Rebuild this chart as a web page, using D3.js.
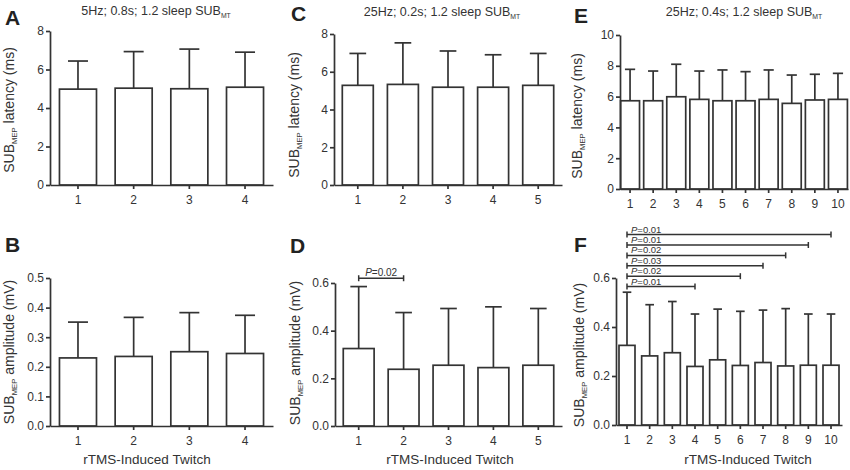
<!DOCTYPE html>
<html>
<head>
<meta charset="utf-8">
<script src="https://cdn.jsdelivr.net/npm/d3@7"></script>
<style>
  body { margin: 0; background: #fff; }
  svg { display: block; font-family: "Liberation Sans", Arial, Helvetica, sans-serif; }
  .axis path, .axis line { stroke: #333; stroke-width: 1.7; }
  .axis text { fill: #333; font-size: 12px; }
  .bar { fill: #fff; stroke: #333; stroke-width: 1.7; }
  .err { stroke: #333; stroke-width: 1.7; fill: none; }
  .sig { stroke: #333; stroke-width: 1.5; }
</style>
</head>
<body>
<svg id="chart" width="850" height="470"></svg>
<script>
// twitch numbers per protocol
const twitchA = [1, 2, 3, 4];
const twitchC = [1, 2, 3, 4, 5];
const twitchE = [1, 2, 3, 4, 5, 6, 7, 8, 9, 10];

// 5Hz; 0.8s
const latencyA   = [4.98, 5.03, 5.00, 5.08];
const latencySdA = [1.46, 1.90, 2.06, 1.82];
const ampB       = [0.230, 0.235, 0.251, 0.245];
const ampSdB     = [0.121, 0.132, 0.132, 0.129];

// 25Hz; 0.2s
const latencyC   = [5.28, 5.33, 5.18, 5.18, 5.28];
const latencySdC = [1.69, 2.20, 1.92, 1.72, 1.69];
const ampD       = [0.325, 0.238, 0.255, 0.245, 0.255];
const ampSdD     = [0.260, 0.238, 0.238, 0.255, 0.238];

// 25Hz; 0.4s
const latencyE   = [5.73, 5.73, 5.99, 5.82, 5.73, 5.73, 5.82, 5.56, 5.78, 5.82];
const latencySdE = [2.04, 1.93, 2.11, 1.84, 2.00, 1.89, 1.91, 1.84, 1.67, 1.69];
const ampF       = [0.325, 0.282, 0.295, 0.239, 0.266, 0.243, 0.255, 0.241, 0.244, 0.244];
const ampSdF     = [0.217, 0.209, 0.209, 0.214, 0.207, 0.221, 0.214, 0.234, 0.209, 0.209];

// significance brackets (twitch 1 vs ...)
const sigToD = [2];
const sigPD  = ['0.02'];
const sigToF = [4, 6, 7, 8, 9, 10];
const sigPF  = ['0.01', '0.02', '0.03', '0.02', '0.01', '0.01'];

// axis ticks
const latencyTicks8  = [0, 2, 4, 6, 8];
const latencyTicks10 = [0, 2, 4, 6, 8, 10];
const ampTicks05 = [0, 0.1, 0.2, 0.3, 0.4, 0.5];
const ampTicks06 = [0, 0.2, 0.4, 0.6];

const titles = ['5Hz; 0.8s; 1.2 sleep SUB', '25Hz; 0.2s; 1.2 sleep SUB', '25Hz; 0.4s; 1.2 sleep SUB'];

const svg = d3.select('#chart');

// text with a subscript part: [main, sub, rest]
function subText(sel, parts, size) {
  sel.append('tspan').text(parts[0]);
  sel.append('tspan').text(parts[1]).attr('font-size', size * 0.55).attr('dy', size * 0.22);
  if (parts[2]) sel.append('tspan').text(parts[2]).attr('dy', -size * 0.22);
}

function drawPanel(p) {
  const g = svg.append('g');

  const x = d3.scaleBand().domain(p.cats).range(p.xr)
    .paddingInner(p.pi).paddingOuter(p.po);
  const y = d3.scaleLinear().domain(p.yDom).range(p.yr);

  // error bars (upper SD only), drawn under the bars
  const cap = x.bandwidth() * 0.27;
  p.cats.forEach((c, i) => {
    const cx = x(c) + x.bandwidth() / 2;
    const top = y(p.vals[i] + p.sds[i]);
    g.append('line').attr('class', 'err')
      .attr('x1', cx).attr('x2', cx).attr('y1', y(p.vals[i])).attr('y2', top);
    g.append('line').attr('class', 'err')
      .attr('x1', cx - cap).attr('x2', cx + cap).attr('y1', top).attr('y2', top);
  });

  g.selectAll('.bar').data(p.vals).enter().append('rect')
    .attr('class', 'bar')
    .attr('x', (d, i) => x(p.cats[i]))
    .attr('width', x.bandwidth())
    .attr('y', d => y(d))
    .attr('height', d => y(0) - y(d));

  g.append('g').attr('class', 'axis')
    .attr('transform', `translate(0,${p.yr[0]})`)
    .call(d3.axisBottom(x).tickSize(4).tickSizeOuter(0).tickPadding(6));

  g.append('g').attr('class', 'axis')
    .attr('transform', `translate(${p.xr[0]},0)`)
    .call(d3.axisLeft(y).tickValues(p.ticks).tickFormat(d3.format(p.fmt))
      .tickSize(4).tickSizeOuter(0).tickPadding(2));

  // y label
  const yl = g.append('text')
    .attr('transform', `translate(${p.ylx},${p.yly}) rotate(-90)`)
    .attr('text-anchor', 'middle').attr('fill', '#333').attr('font-size', 14);
  subText(yl, ['SUB', 'MEP', p.ylabel], 14);

  // panel letter
  g.append('text').attr('x', p.lx).attr('y', p.ly)
    .attr('font-size', 21).attr('font-weight', 'bold').attr('fill', '#222')
    .text(p.letter);

  if (p.title) {
    const t = g.append('text').attr('x', p.tx).attr('y', p.ty)
      .attr('text-anchor', 'middle').attr('fill', '#333').attr('font-size', 12.5);
    subText(t, [p.title, 'MT'], 12.5);
  }

  if (p.xtitle) {
    g.append('text').attr('x', p.xtx).attr('y', 464)
      .attr('text-anchor', 'middle').attr('fill', '#333').attr('font-size', 13.5)
      .text('rTMS-Induced Twitch');
  }

  if (p.sigTo) {
    const x1 = x(p.cats[0]) + x.bandwidth() / 2;
    p.sigTo.forEach((to, k) => {
      const x2 = x(to) + x.bandwidth() / 2;
      const by = y(p.sigBase) - k * 10.4;
      g.append('line').attr('class', 'sig').attr('x1', x1).attr('x2', x2).attr('y1', by).attr('y2', by);
      [x1, x2].forEach(xx => g.append('line').attr('class', 'sig')
        .attr('x1', xx).attr('x2', xx).attr('y1', by - 3).attr('y2', by + 3));
      const t = g.append('text').attr('y', by - 2).attr('fill', '#333').attr('font-size', p.sigSize);
      if (p.sigCenter) t.attr('x', (x1 + x2) / 2).attr('text-anchor', 'middle');
      else t.attr('x', x1 + 4);
      t.append('tspan').attr('font-style', 'italic').text('P');
      t.append('tspan').text('=' + p.sigP[k]);
    });
  }
}

drawPanel({ letter: 'A', lx: 5, ly: 25, title: titles[0], tx: 156, ty: 15,
  cats: twitchA, vals: latencyA, sds: latencySdA,
  xr: [50, 273], pi: 0.335, po: 0.17, yr: [185, 31], yDom: [0, 8], ticks: latencyTicks8, fmt: 'd',
  ylabel: ' latency (ms)', ylx: 14, yly: 110 });

drawPanel({ letter: 'B', lx: 5, ly: 252, xtitle: true, xtx: 147,
  cats: twitchA, vals: ampB, sds: ampSdB,
  xr: [50, 273], pi: 0.335, po: 0.17, yr: [426, 278], yDom: [0, 0.5], ticks: ampTicks05, fmt: '.1f',
  ylabel: ' amplitude (mV)', ylx: 14, yly: 352 });

drawPanel({ letter: 'C', lx: 291, ly: 21, title: titles[1], tx: 442, ty: 16,
  cats: twitchC, vals: latencyC, sds: latencySdC,
  xr: [334, 562], pi: 0.313, po: 0.184, yr: [185, 34], yDom: [0, 8], ticks: latencyTicks8, fmt: 'd',
  ylabel: ' latency (ms)', ylx: 299, yly: 115 });

drawPanel({ letter: 'D', lx: 290, ly: 253, xtitle: true, xtx: 450,
  cats: twitchC, vals: ampD, sds: ampSdD,
  xr: [335, 562], pi: 0.313, po: 0.184, yr: [426, 283], yDom: [0, 0.6], ticks: ampTicks06, fmt: '.1f',
  ylabel: ' amplitude (mV)', ylx: 300, yly: 353,
  sigTo: sigToD, sigP: sigPD, sigBase: 0.62, sigSize: 10, sigCenter: true });

drawPanel({ letter: 'E', lx: 574, ly: 23, title: titles[2], tx: 744, ty: 16,
  cats: twitchE, vals: latencyE, sds: latencySdE,
  xr: [620, 848], pi: 0.18, po: 0.025, yr: [189, 35], yDom: [0, 10], ticks: latencyTicks10, fmt: 'd',
  ylabel: ' latency (ms)', ylx: 582, yly: 116 });

drawPanel({ letter: 'F', lx: 574, ly: 252, xtitle: true, xtx: 748,
  cats: twitchE, vals: ampF, sds: ampSdF,
  xr: [616, 842], pi: 0.294, po: 0.132, yr: [425, 278], yDom: [0, 0.6], ticks: ampTicks06, fmt: '.1f',
  ylabel: ' amplitude (mV)', ylx: 584, yly: 355,
  sigTo: sigToF, sigP: sigPF, sigBase: 0.565, sigSize: 9.5, sigCenter: false });
</script>
</body>
</html>
